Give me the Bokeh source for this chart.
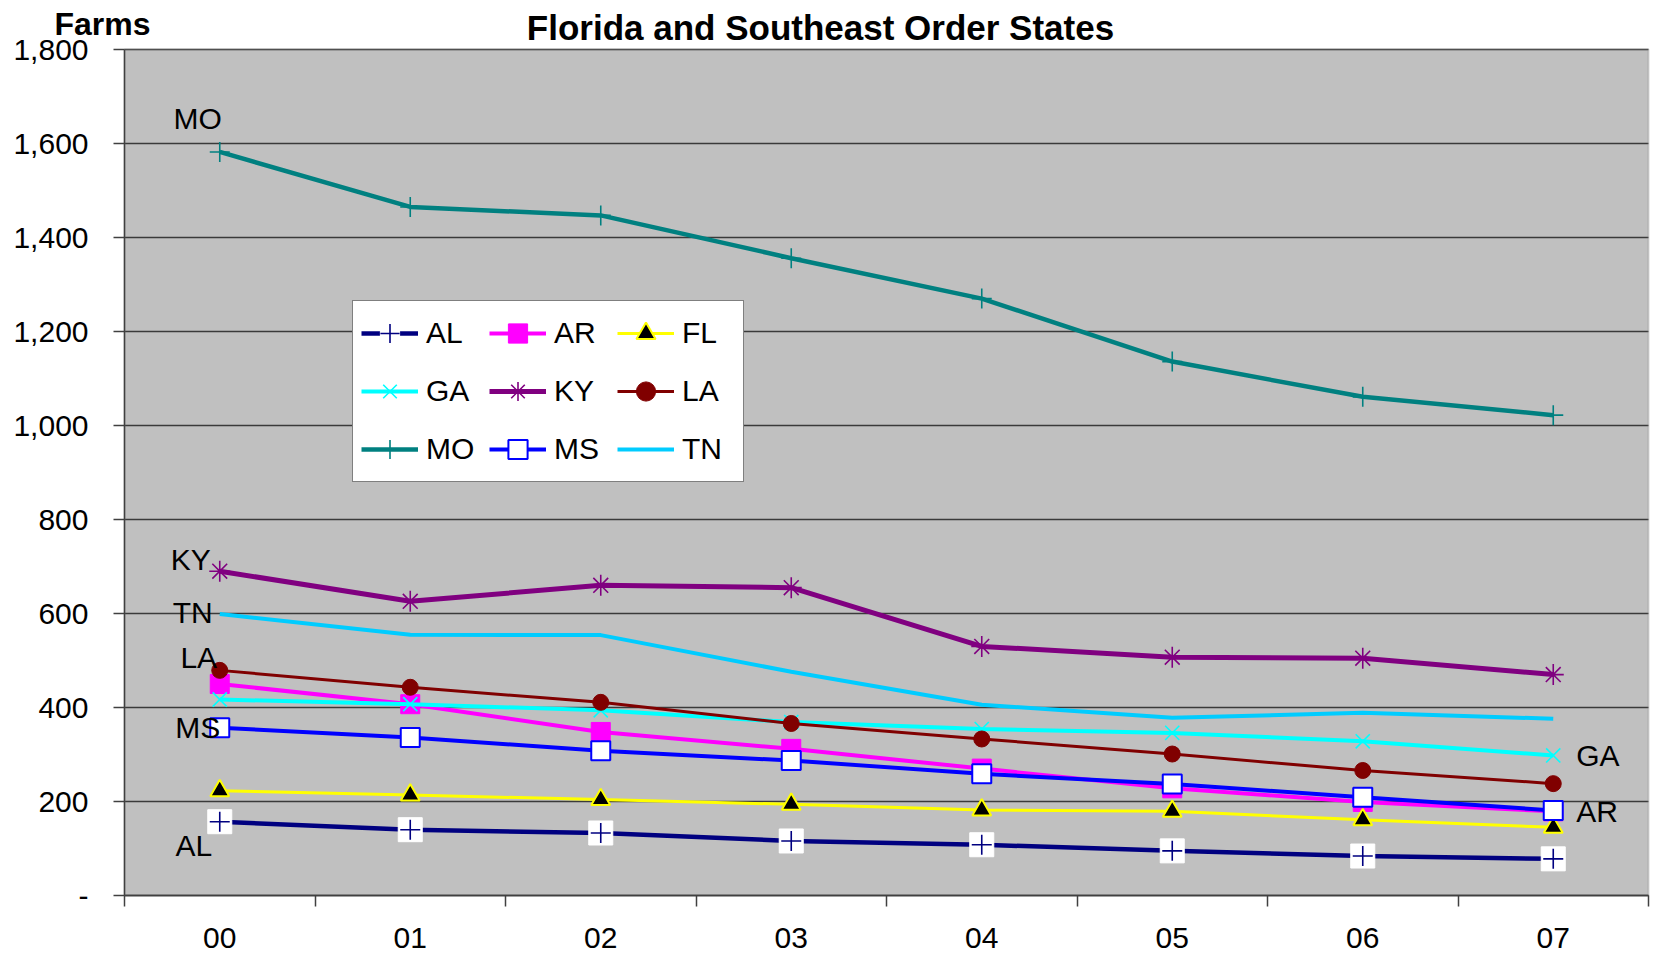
from bokeh.plotting import figure
from bokeh.models import (Range1d, FixedTicker, NumeralTickFormatter, Legend, LegendItem,
                          ColumnDataSource, Label, BoxAnnotation)
from bokeh.embed import file_html
from bokeh.resources import INLINE
from bokeh.core.properties import value

# ---------------- data ----------------
years = ["00", "01", "02", "03", "04", "05", "06", "07"]
AL = [157, 140, 133, 116, 108, 95, 84, 78]
AR = [450, 407, 348, 312, 270, 228, 199, 179]
FL = [223, 214, 204, 194, 182, 179, 161, 145]
GA = [417, 407, 394, 369, 354, 346, 328, 298]
KY = [690, 626, 660, 655, 530, 507, 505, 470]
LA = [479, 443, 411, 366, 333, 301, 266, 238]
MO = [1582, 1465, 1447, 1356, 1270, 1136, 1061, 1022]
MS = [357, 336, 308, 287, 259, 237, 209, 181]
TN = [599, 555, 554, 476, 406, 378, 389, 376]
y_ticks = [0, 200, 400, 600, 800, 1000, 1200, 1400, 1600, 1800]
title_text = "Florida and Southeast Order States"
y_title = "Farms"
left_labels = ["MO", "KY", "TN", "LA", "MS", "AL"]
right_labels = ["GA", "AR"]

series = {"AL": AL, "AR": AR, "FL": FL, "GA": GA, "KY": KY,
          "LA": LA, "MO": MO, "MS": MS, "TN": TN}

FONT = "Liberation Sans"
xs = [i + 0.5 for i in range(len(years))]
n = len(years)
y_max = y_ticks[-1]

# ---------------- layout (pixels) ----------------
W, H = 1650, 956
PL, PR, PT, PB = 124, 1648, 49, 895          # plot-area edges on the canvas
sx = (PR - PL) / n
sy = (PB - PT) / y_max
x_range = Range1d(-PL / sx, n + (W - PR) / sx)
y_range = Range1d(-(H - PB) / sy, y_max + PT / sy)

p = figure(width=W, height=H, output_backend="svg", toolbar_location=None,
           x_range=x_range, y_range=y_range,
           min_border=0, min_border_left=0, min_border_right=0,
           min_border_top=0, min_border_bottom=0,
           background_fill_color="white", border_fill_color="white")
p.outline_line_color = None

# plot area background and border
p.add_layout(BoxAnnotation(left=0, right=n, bottom=0, top=y_max, fill_color="#C0C0C0",
                           fill_alpha=1, line_color=None, level="image"))
p.add_layout(BoxAnnotation(left=0, right=n, bottom=0, top=y_max, fill_color=None,
                           line_color="#808080", line_width=2, level="underlay"))

# x axis: labels at category centres, tick marks at category boundaries
xa = p.xaxis[0]
xa.fixed_location = 0
xa.bounds = (0, n)
xa.ticker = FixedTicker(ticks=xs, minor_ticks=list(range(n + 1)))
xa.major_label_overrides = {x: lab for x, lab in zip(xs, years)}
xa.major_tick_line_color = None
xa.major_tick_out = 0
xa.major_tick_in = 0
xa.minor_tick_out = 11
xa.minor_tick_in = 0
xa.minor_tick_line_color = "#404040"
xa.minor_tick_line_width = 1.5
xa.axis_line_color = "#404040"
xa.axis_line_width = 1.5
xa.major_label_standoff = 21
xa.major_label_text_font = FONT
xa.major_label_text_font_size = "30px"
xa.major_label_text_color = "black"

ya = p.yaxis[0]
ya.fixed_location = 0
ya.bounds = (0, y_max)
ya.ticker = FixedTicker(ticks=y_ticks, minor_ticks=[])
ya.formatter = NumeralTickFormatter(format="0,0")
ya.major_label_overrides = {0: "-"}
ya.major_tick_out = 11
ya.major_tick_in = 0
ya.major_tick_line_color = "#404040"
ya.major_tick_line_width = 1.5
ya.minor_tick_line_color = None
ya.axis_line_color = "#404040"
ya.axis_line_width = 1.5
ya.major_label_standoff = 25
ya.major_label_text_font = FONT
ya.major_label_text_font_size = "30px"
ya.major_label_text_color = "black"

p.xgrid.visible = False
grid_ok = True
try:
    p.ygrid.cross_bounds = (0, n)
    p.ygrid.bounds = (0, y_max)
except Exception:
    grid_ok = False
if grid_ok:
    p.ygrid.ticker = FixedTicker(ticks=y_ticks, minor_ticks=[])
    p.ygrid.grid_line_color = "#3a3a3a"
    p.ygrid.grid_line_width = 1.3
else:
    p.ygrid.visible = False
    p.segment(x0=0, x1=n, y0=y_ticks[1:], y1=y_ticks[1:], line_color="#3a3a3a",
              line_width=1.3)

# ---------------- series ----------------
styles = {
    "AL": dict(color="#000080", lw=4.5, markers=[
        dict(marker="square", size=24, fill_color="white", line_color="white", line_width=1),
        dict(marker="cross", size=20, fill_color=None, line_color="#000080", line_width=1.6)]),
    "AR": dict(color="#FF00FF", lw=4, markers=[
        dict(marker="square", size=19, fill_color="#FF00FF", line_color="#FF00FF", line_width=1)]),
    "FL": dict(color="#FFFF00", lw=3, markers=[
        dict(marker="triangle", size=19, fill_color="black", line_color="#FFFF00", line_width=2)]),
    "GA": dict(color="#00FFFF", lw=4, markers=[
        dict(marker="x", size=20, fill_color=None, line_color="#00FFFF", line_width=1.6)]),
    "KY": dict(color="#800080", lw=5, markers=[
        dict(marker="asterisk", size=21, fill_color=None, line_color="#800080", line_width=1.6)]),
    "LA": dict(color="#800000", lw=3, markers=[
        dict(marker="circle", size=16, fill_color="#800000", line_color="#800000", line_width=1)]),
    "MO": dict(color="#008080", lw=4.5, markers=[
        dict(marker="cross", size=20, fill_color=None, line_color="#008080", line_width=1.6)]),
    "MS": dict(color="#0000FF", lw=4, markers=[
        dict(marker="square", size=19, fill_color="white", line_color="#0000FF", line_width=2)]),
    "TN": dict(color="#00CCFF", lw=4, markers=[]),
}

items = {}
for name, vals in series.items():
    st = styles[name]
    src = ColumnDataSource(dict(x=xs, y=vals))
    rs = [p.line("x", "y", source=src, line_color=st["color"], line_width=st["lw"])]
    for m in st["markers"]:
        rs.append(p.scatter("x", "y", source=src, **m))
    items[name] = LegendItem(label=name, renderers=rs)

legend_order = ["AL", "AR", "FL", "GA", "KY", "LA", "MO", "MS", "TN"]
legend = Legend(items=[items[k] for k in legend_order], location=(352, H - 482), ncols=3,
                orientation="horizontal",
                glyph_width=57, glyph_height=48, label_standoff=8, spacing=10,
                label_width=53,
                padding=8, margin=0, label_text_font=FONT, label_text_font_size="30px",
                label_text_color="black",
                border_line_color="black", border_line_width=1,
                background_fill_color="white", background_fill_alpha=1)
p.add_layout(legend)

# ---------------- series name labels ----------------
left_off = {"MO": (-22, -33), "KY": (-29, -12), "TN": (-27, -1),
            "LA": (-21, -13), "MS": (-22, 0), "AL": (-26, 24)}
lsrc = ColumnDataSource(dict(
    x=[xs[0]] * len(left_labels),
    y=[series[k][0] for k in left_labels],
    t=left_labels,
    dx=[left_off[k][0] for k in left_labels],
    dy=[left_off[k][1] for k in left_labels]))
p.text("x", "y", text="t", source=lsrc, x_offset="dx", y_offset="dy",
       text_align="center", text_baseline="middle", text_font=value(FONT),
       text_font_size="30px", text_color="black")

rsrc = ColumnDataSource(dict(
    x=[xs[-1]] * len(right_labels),
    y=[series[k][-1] for k in right_labels],
    t=right_labels))
p.text("x", "y", text="t", source=rsrc, x_offset=23, y_offset=0,
       text_align="left", text_baseline="middle", text_font=value(FONT),
       text_font_size="30px", text_color="black")

# ---------------- titles ----------------
p.add_layout(Label(x=820, y=929, x_units="screen", y_units="screen", text=title_text,
                   text_font=FONT, text_font_size="35px", text_font_style="bold",
                   text_align="center", text_baseline="alphabetic", text_color="black"))
p.add_layout(Label(x=102, y=933, x_units="screen", y_units="screen", text=y_title,
                   text_font=FONT, text_font_size="32px", text_font_style="bold",
                   text_align="center", text_baseline="alphabetic", text_color="black"))

open("out.html", "w").write(file_html(p, INLINE))
